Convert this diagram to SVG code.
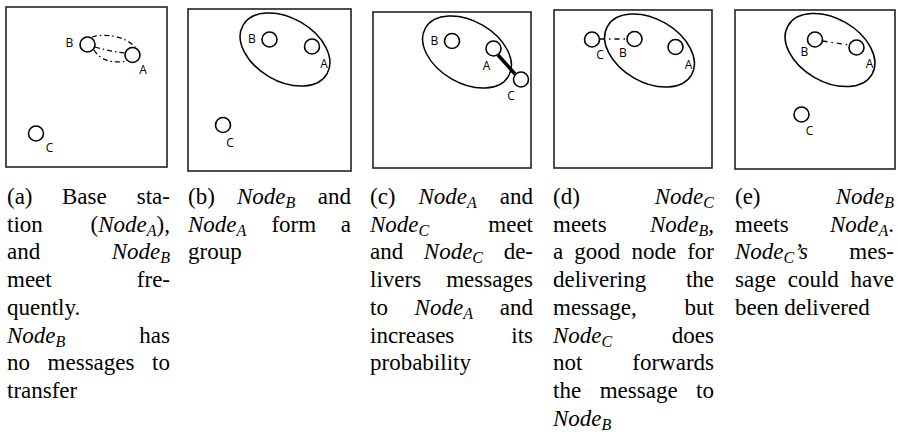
<svg xmlns="http://www.w3.org/2000/svg" width="897" height="439" viewBox="0 0 897 439">
<style>
.bg{fill:#fff}
.box{fill:none;stroke:#222;stroke-width:1.6}
.grp{fill:none;stroke:#000;stroke-width:1.5}
.nd{fill:none;stroke:#000;stroke-width:1.6}
.lbl{font-family:"Open Sans","Liberation Sans",sans-serif;font-size:12px;text-anchor:middle;fill:#000}
.dd{fill:none;stroke:#000;stroke-width:1.3;stroke-dasharray:5 3 1.5 3}
.thick{stroke:#000;stroke-width:3.5;stroke-linecap:butt}
text.c{font-family:"Liberation Serif","DejaVu Serif",serif;font-size:23px;fill:#000}
.r{text-anchor:end}
.m{font-style:italic}
.s{font-style:italic;font-size:16px}
</style>
<rect class="bg" width="897" height="439"/>
<g id="frames">
<rect class="box" x="6" y="7" width="161" height="160"/>
<rect class="box" x="188" y="9" width="163" height="162"/>
<rect class="box" x="373" y="12" width="158" height="156"/>
<rect class="box" x="554" y="10" width="158" height="158"/>
<rect class="box" x="735" y="10" width="160" height="159"/>
</g>
<g id="groups">
<ellipse class="grp" cx="285" cy="49.5" rx="48.5" ry="31.5" transform="rotate(30 285 49.5)"/>
<ellipse class="grp" cx="467" cy="52" rx="48" ry="31" transform="rotate(30 467 52)"/>
<ellipse class="grp" cx="649.5" cy="50.5" rx="48.5" ry="31.5" transform="rotate(30 649.5 50.5)"/>
<ellipse class="grp" cx="830" cy="50" rx="48.5" ry="31.5" transform="rotate(30 830 50)"/>
</g>
<g id="connectors">
<path class="dd" d="M92 37 C105 33 125 36 135 47"/>
<path class="dd" d="M95 47 C105 50 115 52 125 53"/>
<path class="dd" d="M94 50 C100 60 112 64 127 61"/>
<line class="thick" x1="498" y1="55" x2="515" y2="74"/>
<line class="dd" x1="600" y1="39" x2="627" y2="39" style="stroke-dasharray:5 4 1.5 4"/>
<line class="dd" x1="822.5" y1="41" x2="849" y2="45" style="stroke-dasharray:5 4 1.5 4"/>
</g>
<g id="a-B"><circle class="nd" cx="87.5" cy="44.5" r="7.5"/><text class="lbl" x="69.5" y="47">B</text></g>
<g id="a-A"><circle class="nd" cx="132.5" cy="55" r="7.5"/><text class="lbl" x="143" y="74">A</text></g>
<g id="a-C"><circle class="nd" cx="36" cy="133.5" r="7.5"/><text class="lbl" x="49.5" y="152">C</text></g>
<g id="b-B"><circle class="nd" cx="269.5" cy="39.5" r="7.5"/><text class="lbl" x="252" y="43">B</text></g>
<g id="b-A"><circle class="nd" cx="312" cy="46.5" r="7.5"/><text class="lbl" x="324" y="68">A</text></g>
<g id="b-C"><circle class="nd" cx="223" cy="125" r="7.5"/><text class="lbl" x="230" y="147">C</text></g>
<g id="c-B"><circle class="nd" cx="452" cy="41" r="7.5"/><text class="lbl" x="434.5" y="45">B</text></g>
<g id="c-A"><circle class="nd" cx="493.5" cy="48.5" r="7.5"/><text class="lbl" x="486.5" y="70">A</text></g>
<g id="c-C"><circle class="nd" cx="521" cy="79.5" r="7.5"/><text class="lbl" x="511" y="100">C</text></g>
<g id="d-C"><circle class="nd" cx="592" cy="39.5" r="7.5"/><text class="lbl" x="600" y="59">C</text></g>
<g id="d-B"><circle class="nd" cx="634.5" cy="39" r="7.5"/><text class="lbl" x="623" y="57">B</text></g>
<g id="d-A"><circle class="nd" cx="675.5" cy="47" r="7.5"/><text class="lbl" x="688.5" y="69">A</text></g>
<g id="e-B"><circle class="nd" cx="815" cy="39.5" r="7.5"/><text class="lbl" x="804.5" y="56">B</text></g>
<g id="e-A"><circle class="nd" cx="856.5" cy="47.5" r="7.5"/><text class="lbl" x="869.5" y="68">A</text></g>
<g id="e-C"><circle class="nd" cx="801.5" cy="114.5" r="7.5"/><text class="lbl" x="809.5" y="135">C</text></g>
<g id="captions">
<text class="c" x="7" y="204">(a)</text><text class="c" x="62" y="204">Base</text><text class="c r" x="170" y="204">sta-</text>
<text class="c" x="7" y="231.7">tion</text><text class="c r" x="170" y="231.7">(<tspan class="m">Node</tspan><tspan class="s" dy="4">A</tspan><tspan dy="-4">),</tspan></text>
<text class="c" x="7" y="259.4">and</text><text class="c r" x="170" y="259.4"><tspan class="m">Node</tspan><tspan class="s" dy="4">B</tspan></text>
<text class="c" x="7" y="287.1">meet</text><text class="c r" x="170" y="287.1">fre-</text>
<text class="c" x="7" y="314.8">quently.</text>
<text class="c" x="7" y="342.5"><tspan class="m">Node</tspan><tspan class="s" dy="4">B</tspan></text><text class="c r" x="170" y="342.5">has</text>
<text class="c" x="7" y="370.2">no</text><text class="c" x="47.6" y="370.2">messages</text><text class="c r" x="170" y="370.2">to</text>
<text class="c" x="7" y="397.9">transfer</text>

<text class="c" x="188" y="204">(b)</text><text class="c" x="237" y="204"><tspan class="m">Node</tspan><tspan class="s" dy="4">B</tspan></text><text class="c r" x="351" y="204">and</text>
<text class="c" x="188" y="231.7"><tspan class="m">Node</tspan><tspan class="s" dy="4">A</tspan></text><text class="c" x="271.4" y="231.7">form</text><text class="c r" x="351" y="231.7">a</text>
<text class="c" x="188" y="259.4">group</text>

<text class="c" x="370" y="204">(c)</text><text class="c" x="418.4" y="204"><tspan class="m">Node</tspan><tspan class="s" dy="4">A</tspan></text><text class="c r" x="533" y="204">and</text>
<text class="c" x="370" y="231.7"><tspan class="m">Node</tspan><tspan class="s" dy="4">C</tspan></text><text class="c r" x="533" y="231.7">meet</text>
<text class="c" x="370" y="259.4">and</text><text class="c" x="423.8" y="259.4"><tspan class="m">Node</tspan><tspan class="s" dy="4">C</tspan></text><text class="c r" x="533" y="259.4">de-</text>
<text class="c" x="370" y="287.1">livers</text><text class="c r" x="533" y="287.1">messages</text>
<text class="c" x="370" y="314.8">to</text><text class="c" x="414.6" y="314.8"><tspan class="m">Node</tspan><tspan class="s" dy="4">A</tspan></text><text class="c r" x="533" y="314.8">and</text>
<text class="c" x="370" y="342.5">increases</text><text class="c r" x="533" y="342.5">its</text>
<text class="c" x="370" y="370.2">probability</text>

<text class="c" x="553" y="204">(d)</text><text class="c r" x="714" y="204"><tspan class="m">Node</tspan><tspan class="s" dy="4">C</tspan></text>
<text class="c" x="553" y="231.7">meets</text><text class="c r" x="714" y="231.7"><tspan class="m">Node</tspan><tspan class="s" dy="4">B</tspan><tspan dy="-4">,</tspan></text>
<text class="c" x="553" y="259.4">a</text><text class="c" x="574.3" y="259.4">good</text><text class="c" x="631.4" y="259.4">node</text><text class="c r" x="714" y="259.4">for</text>
<text class="c" x="553" y="287.1">delivering</text><text class="c r" x="714" y="287.1">the</text>
<text class="c" x="553" y="314.8">message,</text><text class="c r" x="714" y="314.8">but</text>
<text class="c" x="553" y="342.5"><tspan class="m">Node</tspan><tspan class="s" dy="4">C</tspan></text><text class="c r" x="714" y="342.5">does</text>
<text class="c" x="553" y="370.2">not</text><text class="c r" x="714" y="370.2">forwards</text>
<text class="c" x="553" y="397.9">the</text><text class="c" x="599.7" y="397.9">message</text><text class="c r" x="714" y="397.9">to</text>
<text class="c" x="553" y="425.6"><tspan class="m">Node</tspan><tspan class="s" dy="4">B</tspan></text>

<text class="c" x="735" y="204">(e)</text><text class="c r" x="894" y="204"><tspan class="m">Node</tspan><tspan class="s" dy="4">B</tspan></text>
<text class="c" x="735" y="231.7">meets</text><text class="c r" x="894" y="231.7"><tspan class="m">Node</tspan><tspan class="s" dy="4">A</tspan><tspan dy="-4">.</tspan></text>
<text class="c" x="735" y="259.4"><tspan class="m">Node</tspan><tspan class="s" dy="4">C</tspan><tspan class="m" dy="-4">’s</tspan></text><text class="c r" x="894" y="259.4">mes-</text>
<text class="c" x="735" y="287.1">sage</text><text class="c" x="787.7" y="287.1">could</text><text class="c r" x="894" y="287.1">have</text>
<text class="c" x="735" y="314.8">been delivered</text>
</g>
</svg>
